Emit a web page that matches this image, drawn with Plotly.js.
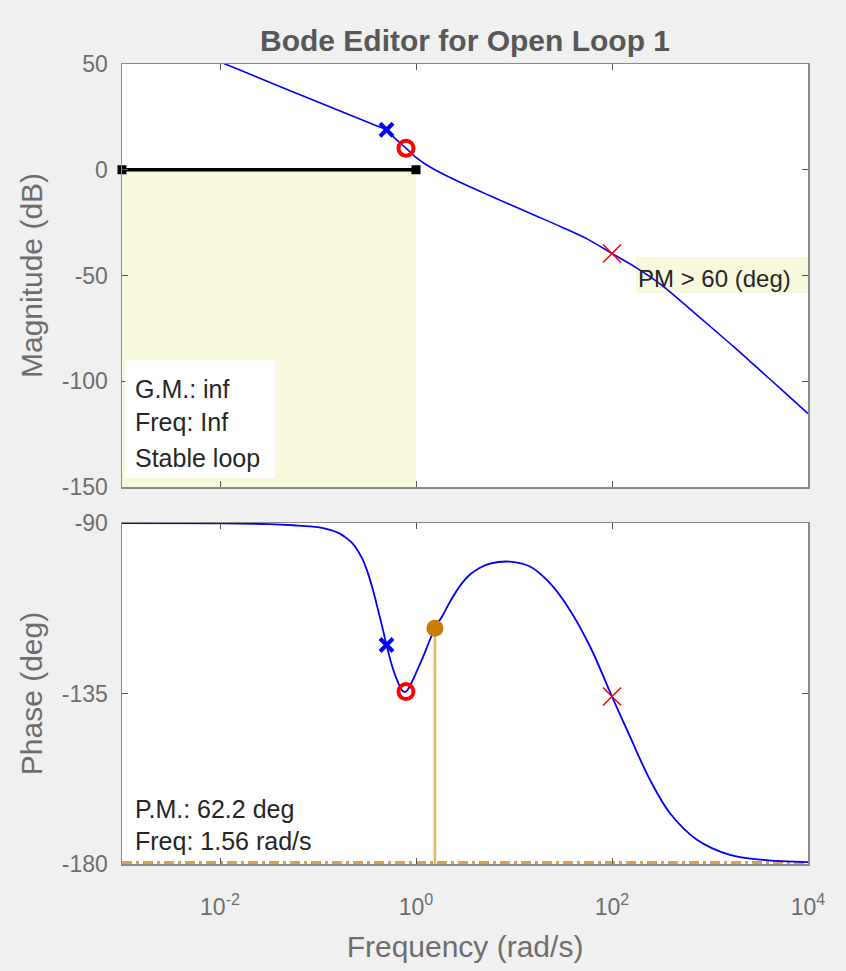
<!DOCTYPE html>
<html>
<head>
<meta charset="utf-8">
<script src="https://cdn.plot.ly/plotly-3.0.1.min.js"></script>
<style>
html,body{margin:0;padding:0;background:#f0f0f0;}
#chart{width:846px;height:971px;}
</style>
</head>
<body>
<div id="chart"></div>
<script>
// ---- data ----
const magFreq = [0.01, 0.0316, 0.1, 0.2, 0.3, 0.4, 0.5, 0.6, 0.79, 1.0, 1.25, 1.56, 2.0, 3.16, 5.62, 10, 17.8, 31.6, 56.2, 100, 178, 316, 562, 1000, 1778, 3162, 5623, 10000];
const magDb   = [51, 41.5, 32, 26.4, 23.1, 20.7, 18.9, 15.2, 10.2, 5.8, 2.6, 0, -2.6, -7, -12.2, -17.3, -22.3, -27.4, -32.8, -39.6, -46.4, -54.3, -64.0, -74.0, -84.0, -94.4, -104.8, -115.3];

const phaseFreq = [0.001, 0.01, 0.0316, 0.0562, 0.1, 0.133, 0.1675, 0.2, 0.2275, 0.2577, 0.2877, 0.3236, 0.3639, 0.4103, 0.4603, 0.5, 0.5623, 0.6397, 0.7362, 0.79, 0.8511, 0.9311, 1.047, 1.178, 1.35, 1.56, 1.888, 2.223, 2.812, 3.556, 4.498, 5.689, 9.099, 14.55, 23.28, 37.24, 59.7, 100, 152.8, 244.3, 390.8, 736.2, 1600, 3475, 10000];
const phaseDeg  = [-90, -90.1, -90.3, -90.6, -91.1, -91.8, -92.8, -94.2, -95.5, -97.5, -99.8, -103.3, -107.7, -113, -118.2, -122.2, -127.2, -131.4, -134.4, -134.5, -133.4, -131.4, -128.4, -125.4, -121.6, -117.8, -114.2, -110.8, -106.6, -103.6, -101.8, -100.7, -100.2, -101.5, -105.9, -113, -122.6, -135.8, -146.4, -157.8, -166.6, -173.6, -177.6, -178.9, -179.5];

// compensator pole (blue x), zero (red o), plant pole (red x)
const cpPoleFreq = [0.5];   const cpPoleMag = [18.9];  const cpPolePhase = [-122.2];
const cpZeroFreq = [0.79];  const cpZeroMag = [10.2];  const cpZeroPhase = [-134.5];
const plPoleFreq = [100];   const plPoleMag = [-39.6]; const plPolePhase = [-135.8];

// phase margin point
const pmFreq = [1.56];
const pmPhase = [-117.8];
const pmBase = [-180];

// gain design constraint region (0 dB below 1 rad/s)
const boundFreq = [0.001, 1];
const boundDb = [0, -150];

// -180 deg reference line
const refFreq = [0.001, 10000];
const refDeg = [-180, -180];

// ticks
const xTickVals = [0.01, 1, 100, 10000];
const xTickText = ['10<sup>-2</sup>', '10<sup>0</sup>', '10<sup>2</sup>', '10<sup>4</sup>'];
const magTicks = [-150, -100, -50, 0, 50];
const magTickText = ['-150', '-100', '-50', '0', '50'];
const phaseTicks = [-180, -135, -90];
const phaseTickText = ['-180', '-135', '-90'];

const titleText = 'Bode Editor for Open Loop 1';
const gmLines = ['G.M.: inf', 'Freq: Inf', 'Stable loop'];
const pmLines = ['P.M.: 62.2 deg', 'Freq: 1.56 rad/s'];
const pmReq = 'PM > 60 (deg)';

// ---- styling ----
const FONT = 'Liberation Sans, Arial, Helvetica, sans-serif';
const axisColor = '#8a8a8a';
const labelColor = '#6e6e6e';
const textColor = '#262626';
const blue = '#0000ff';
const red = '#ff0000';
const boundFill = '#f8f8dc';

const traces = [
  {x: [boundFreq[0], boundFreq[1], boundFreq[1], boundFreq[0]],
   y: [boundDb[0], boundDb[0], boundDb[1], boundDb[1]],
   xaxis: 'x', yaxis: 'y', mode: 'lines', fill: 'toself', fillcolor: boundFill,
   line: {width: 0, color: boundFill}, hoverinfo: 'skip'},
  {x: boundFreq, y: [boundDb[0], boundDb[0]], xaxis: 'x', yaxis: 'y',
   mode: 'lines+markers', line: {color: '#000000', width: 3.5},
   marker: {symbol: 'square', size: 9, color: '#000000'}, cliponaxis: false},
  {x: magFreq, y: magDb, xaxis: 'x', yaxis: 'y', mode: 'lines',
   line: {color: blue, width: 1.6, shape: 'spline', smoothing: 1}},
  {x: cpPoleFreq, y: cpPoleMag, xaxis: 'x', yaxis: 'y', mode: 'markers',
   marker: {symbol: 'x-thin', size: 13, line: {color: blue, width: 4}}},
  {x: cpZeroFreq, y: cpZeroMag, xaxis: 'x', yaxis: 'y', mode: 'markers',
   marker: {symbol: 'circle-open', size: 15, color: red, line: {color: red, width: 4}}},
  {x: plPoleFreq, y: plPoleMag, xaxis: 'x', yaxis: 'y', mode: 'markers',
   marker: {symbol: 'x-thin', size: 18, line: {color: red, width: 1.5}}},

  {x: refFreq, y: refDeg, xaxis: 'x2', yaxis: 'y2', mode: 'lines',
   line: {color: '#dca24c', width: 6, dash: '10px,4px,3px,4px'}},
  {x: phaseFreq, y: phaseDeg, xaxis: 'x2', yaxis: 'y2', mode: 'lines',
   line: {color: blue, width: 1.8, shape: 'spline', smoothing: 1}},
  {x: [pmFreq[0], pmFreq[0]], y: [pmBase[0], pmPhase[0]], xaxis: 'x2', yaxis: 'y2', mode: 'lines',
   line: {color: '#e9b463', width: 2.5}},
  {x: pmFreq, y: pmPhase, xaxis: 'x2', yaxis: 'y2', mode: 'markers',
   marker: {symbol: 'circle', size: 17, color: '#c97d00'}},
  {x: cpPoleFreq, y: cpPolePhase, xaxis: 'x2', yaxis: 'y2', mode: 'markers',
   marker: {symbol: 'x-thin', size: 13, line: {color: blue, width: 4}}},
  {x: cpZeroFreq, y: cpZeroPhase, xaxis: 'x2', yaxis: 'y2', mode: 'markers',
   marker: {symbol: 'circle-open', size: 15, color: red, line: {color: red, width: 4}}},
  {x: plPoleFreq, y: plPolePhase, xaxis: 'x2', yaxis: 'y2', mode: 'markers',
   marker: {symbol: 'x-thin', size: 18, line: {color: red, width: 1.5}}}
];

const axisCommon = {
  showline: true, linecolor: axisColor, linewidth: 1.5, mirror: 'ticks',
  ticks: 'inside', ticklen: 6, tickwidth: 1, tickcolor: '#555555',
  showgrid: false, zeroline: false,
  tickfont: {family: FONT, size: 23, color: labelColor}
};

const annText = (t, xr, yr, x, y, size) => ({
  text: t, xref: xr, yref: yr, x: x, y: y, xanchor: 'left', yanchor: 'middle',
  showarrow: false, font: {family: FONT, size: size, color: textColor}
});

const annotations = [
  annText(gmLines[0], 'x domain', 'y domain', 0.016, 0.232, 25),
  annText(gmLines[1], 'x domain', 'y domain', 0.016, 0.153, 25),
  annText(gmLines[2], 'x domain', 'y domain', 0.016, 0.0686, 25),
  annText(pmLines[0], 'x2 domain', 'y2 domain', 0.016, 0.162, 25),
  annText(pmLines[1], 'x2 domain', 'y2 domain', 0.016, 0.0665, 25),
  annText(pmReq, 'x domain', 'y domain', 0.749, 0.494, 24)
];

const shapes = [
  {type: 'rect', xref: 'x domain', yref: 'y domain', x0: 0.0044, x1: 0.223, y0: 0.021, y1: 0.300,
   fillcolor: '#ffffff', line: {width: 0}, layer: 'above'},
  {type: 'rect', xref: 'x domain', yref: 'y domain', x0: 0.749, x1: 1.0, y0: 0.4586, y1: 0.5437,
   fillcolor: boundFill, line: {width: 0}, layer: 'below'}
];

const layout = {
  width: 846, height: 971,
  paper_bgcolor: '#f0f0f0', plot_bgcolor: '#ffffff',
  margin: {l: 122, r: 38, t: 64, b: 107},
  showlegend: false, hovermode: false,
  font: {family: FONT, color: labelColor},
  title: {text: '<b>' + titleText + '</b>', font: {family: FONT, size: 30, color: '#585858'},
          x: 0.5, xref: 'paper', xanchor: 'center', y: 1 - 40 / 971, yref: 'container', yanchor: 'middle'},
  xaxis: Object.assign({}, axisCommon, {type: 'log', range: [-3, 4], anchor: 'y',
          tickmode: 'array', tickvals: xTickVals, ticktext: xTickText, showticklabels: false}),
  yaxis: Object.assign({}, axisCommon, {domain: [0.47125, 1], range: [-150, 50], anchor: 'x',
          tickmode: 'array', tickvals: magTicks, ticktext: magTickText, ticklabelstandoff: 8,
          title: {text: 'Magnitude (dB)', font: {family: FONT, size: 30, color: labelColor}, standoff: 10}}),
  xaxis2: Object.assign({}, axisCommon, {type: 'log', range: [-3, 4], anchor: 'y2',
          tickmode: 'array', tickvals: xTickVals, ticktext: xTickText, ticklabelstandoff: 22,
          title: {text: 'Frequency (rad/s)', font: {family: FONT, size: 30, color: labelColor}, standoff: 17}}),
  yaxis2: Object.assign({}, axisCommon, {domain: [0, 0.42625], range: [-180, -90], anchor: 'x2',
          tickmode: 'array', tickvals: phaseTicks, ticktext: phaseTickText, ticklabelstandoff: 8,
          title: {text: 'Phase (deg)', font: {family: FONT, size: 30, color: labelColor}, standoff: 10}}),
  annotations: annotations,
  shapes: shapes
};

Plotly.newPlot('chart', traces, layout, {displayModeBar: false, staticPlot: true});
</script>
</body>
</html>
